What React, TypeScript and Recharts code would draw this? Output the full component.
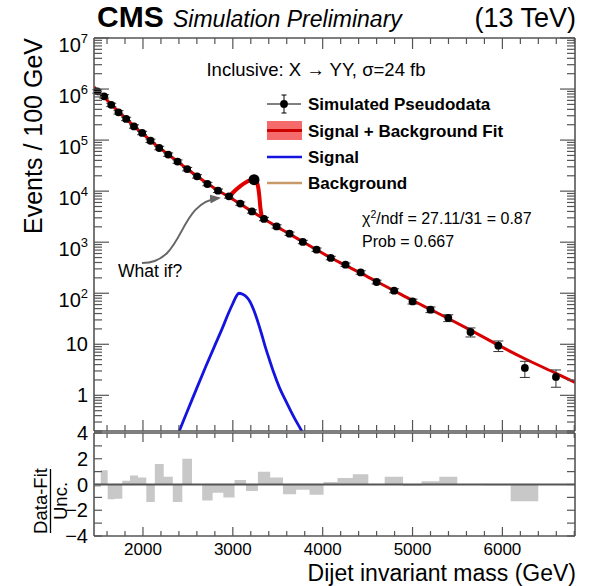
import React from 'react';
import { ComposedChart, Line, Scatter, ErrorBar, XAxis, YAxis, Area, ReferenceLine } from 'recharts';

const FONT = '"Liberation Sans", Arial, Helvetica, sans-serif';
const FRAME = '#555555';

// ---------- data ----------
const massPoints = [1492, 1568, 1647, 1728, 1813, 1900, 1991, 2084, 2181, 2281, 2385, 2492, 2602, 2717, 2835, 2957, 3083, 3213, 3347, 3487, 3631, 3779, 3932, 4090, 4254, 4423, 4600, 4795, 5000, 5200, 5398, 5645, 5955, 6250, 6596];
const eventCounts = [9.0e5, 7.2e5, 4.9e5, 3.5e5, 2.6e5, 1.85e5, 1.38e5, 9.7e4, 7.0e4, 5.2e4, 3.8e4, 2.7e4, 1.95e4, 1.38e4, 1.02e4, 7.9e3, 5.7e3, 4.0e3, 2.85e3, 2.04e3, 1.47e3, 1.01e3, 714, 491, 363, 256, 166, 112, 69, 47.7, 32.8, 17.4, 9.4, 3.44, 2.29];
const eventErrors = [7e4, 5.5e4, 3.8e4, 2.7e4, 2.0e4, 1.4e4, 1.05e4, 7.5e3, 5.4e3, 4.0e3, 2.9e3, 2.1e3, 1.5e3, 1.05e3, 780, 600, 430, 300, 215, 155, 110, 77, 55, 38, 28, 20, 14, 10, 7.5, 6, 5, 3.5, 2.2, 1.2, 0.85];

const fitMass = [1455, 1492, 1568, 1647, 1728, 1813, 1900, 1991, 2084, 2181, 2281, 2385, 2492, 2602, 2717, 2835, 2957, 3083, 3213, 3347, 3487, 3631, 3779, 3932, 4090, 4254, 4423, 4600, 4795, 5000, 5200, 5398, 5645, 5955, 6250, 6596, 6808];
const fitEvents = [1.1e6, 9.3e5, 6.9e5, 5.0e5, 3.6e5, 2.6e5, 1.87e5, 1.36e5, 9.8e4, 7.1e4, 5.2e4, 3.8e4, 2.72e4, 1.96e4, 1.41e4, 1.03e4, 7.7e3, 5.6e3, 4.0e3, 2.85e3, 2.02e3, 1.45e3, 1.02e3, 710, 495, 350, 248, 170, 112, 72, 48, 32, 19, 9.6, 5.2, 2.7, 1.8];

const bumpMass = [2957, 3000, 3080, 3191, 3236, 3262, 3282, 3295, 3305, 3321];
const bumpEvents = [7.7e3, 9.3e3, 1.24e4, 1.62e4, 1.68e4, 1.55e4, 1.2e4, 8.0e3, 5.0e3, 3.25e3];

const peakMass = [3236];
const peakEvents = [1.68e4];

const signalMass = [2300, 2404, 2500, 2600, 2700, 2800, 2880, 2950, 3000, 3040, 3065, 3110, 3150, 3190, 3235, 3283, 3320, 3357, 3400, 3450, 3520, 3599, 3680, 3766, 3850];
const signalEvents = [0.07, 0.2, 0.52, 1.4, 3.7, 9.5, 20, 40, 63, 88, 100, 95, 85, 69, 45.8, 26, 15.9, 9.45, 5.45, 2.96, 1.4, 0.72, 0.374, 0.2, 0.1];

const binEdges = [1455, 1530, 1607, 1687, 1770, 1856, 1945, 2037, 2132, 2231, 2332, 2438, 2546, 2659, 2775, 2895, 3019, 3147, 3279, 3416, 3558, 3704, 3854, 4010, 4165, 4335, 4508, 4690, 4895, 5100, 5298, 5498, 5795, 6092, 6399, 6808];
const pulls = [-0.2, 1.1, -1.15, -1.1, 0.3, 0.7, 0.55, -1.35, 1.6, 0.6, -1.35, 2.0, 0, -1.25, -0.65, -1.0, 0.35, -0.5, 1.0, 0.55, -0.75, -0.4, -0.8, 0.2, 0.5, 0.8, 0, 0.6, -0.1, 0.25, 0.6, 0, -0.05, -1.3, 0];

// ---------- axes ----------
const X_DOMAIN: [number, number] = [1455, 6808];
const xMajor = [2000, 3000, 4000, 5000, 6000];
const xMinor = [1600, 1800, 2200, 2400, 2600, 2800, 3200, 3400, 3600, 3800, 4200, 4400, 4600, 4800, 5200, 5400, 5600, 5800, 6200, 6400, 6600, 6800];
const xTicks = [...xMajor, ...xMinor].sort((a, b) => a - b);

const Y_DOMAIN: [number, number] = [0.2, 1e7];
const yMajor = [1, 10, 100, 1e3, 1e4, 1e5, 1e6, 1e7];
const yDecades = [0.1, 1, 10, 100, 1e3, 1e4, 1e5, 1e6];
const yMinorMult = [2, 3, 4, 5, 6, 7, 8, 9];
const yTicks = [...yMajor, ...yDecades.flatMap((d) => yMinorMult.map((m) => d * m))].filter((v) => v >= 0.2 && v <= 1e7);
const yExp: Record<number, string> = { 100: '2', 1000: '3', 10000: '4', 100000: '5', 1000000: '6', 10000000: '7' };

const R_DOMAIN: [number, number] = [-4, 4];
const rMajor = [-4, -2, 0, 2, 4];
const rTicks = [-4, -3, -2, -1, 0, 1, 2, 3, 4];
const rLabels: Record<number, string> = { [-4]: '\u22124', [-2]: '\u22122', 0: '0', 2: '2', 4: '4' };

// ---------- derived tables ----------
const pointData = massPoints.map((x, i) => ({ x, y: eventCounts[i], err: eventErrors[i] }));
const fitData = fitMass.map((x, i) => ({ x, y: fitEvents[i] }));
const bumpData = bumpMass.map((x, i) => ({ x, y: bumpEvents[i] }));
const peakData = peakMass.map((x, i) => ({ x, y: peakEvents[i] }));
const signalData = signalMass.map((x, i) => ({ x, y: signalEvents[i] }));
const pullData = binEdges.map((x, i) => ({ x, r: i < pulls.length ? pulls[i] : 0 }));

// ---------- tick renderers ----------
const makeXTick = (side: 'top' | 'bottom', majLen: number, minLen: number, label: boolean) => (props: any) => {
  const { x, y, payload } = props;
  const v = payload.value;
  const major = xMajor.includes(v);
  const len = major ? majLen : minLen;
  const dir = side === 'bottom' ? -1 : 1;
  return (
    <g>
      <line x1={x} x2={x} y1={y} y2={y + dir * len} stroke={FRAME} strokeWidth={1.2} />
      {label && major ? (
        <text x={x} y={y + 19} textAnchor="middle" fontSize={17} fontFamily={FONT} fill="#000">
          {v}
        </text>
      ) : null}
    </g>
  );
};

const makeLogYTick = (side: 'left' | 'right') => (props: any) => {
  const { x, y, payload } = props;
  const v = payload.value;
  const major = yMajor.includes(v);
  const len = major ? 15 : 8;
  const dir = side === 'left' ? 1 : -1;
  let lab: any = null;
  if (side === 'left' && major) {
    if (v === 1 || v === 10) {
      lab = (
        <text x={x - 6} y={y + 7} textAnchor="end" fontSize={20} fontFamily={FONT} fill="#000">
          {v === 1 ? '1' : '10'}
        </text>
      );
    } else {
      lab = (
        <text x={x - 6} y={y + 14} textAnchor="end" fontSize={20} fontFamily={FONT} fill="#000">
          10<tspan dy={-9} fontSize={13}>{yExp[v]}</tspan>
        </text>
      );
    }
  }
  return (
    <g>
      <line x1={x} x2={x + dir * len} y1={y} y2={y} stroke={FRAME} strokeWidth={1.2} />
      {lab}
    </g>
  );
};

const makePullTick = (side: 'left' | 'right') => (props: any) => {
  const { x, y, payload } = props;
  const v = payload.value;
  const major = rMajor.includes(v);
  const dir = side === 'left' ? 1 : -1;
  return (
    <g>
      <line x1={x} x2={x + dir * 8} y1={y} y2={y} stroke={FRAME} strokeWidth={1.2} />
      {side === 'left' && major ? (
        <text x={x - 6} y={y + 7} textAnchor="end" fontSize={20} fontFamily={FONT} fill="#000">
          {rLabels[v]}
        </text>
      ) : null}
    </g>
  );
};

const axisLine = { stroke: FRAME, strokeWidth: 1.6 };

const DataDot = (p: any) => <circle cx={p.cx} cy={p.cy} r={3.9} fill="#000" />;
const PeakDot = (p: any) => <circle cx={p.cx} cy={p.cy} r={5.5} fill="#000" />;

export default function App() {
  return (
    <div style={{ position: 'absolute', left: 0, top: 0, width: 590, height: 586, background: '#fff', fontFamily: FONT }}>
      {/* lower (pull) panel */}
      <div style={{ position: 'absolute', left: 0, top: 0 }}>
        <ComposedChart width={590} height={586} margin={{ top: 432, right: 14, bottom: 49, left: 93 }}>
          <XAxis dataKey="x" type="number" domain={X_DOMAIN} allowDataOverflow ticks={xTicks} interval={0}
            height={1} tickSize={0} tickMargin={0} tickLine={false} axisLine={axisLine}
            tick={makeXTick('bottom', 9, 5, true)} />
          <XAxis xAxisId="top" orientation="top" dataKey="x" type="number" domain={X_DOMAIN} allowDataOverflow ticks={xTicks} interval={0}
            height={1} tickSize={0} tickMargin={0} tickLine={false} axisLine={axisLine}
            tick={makeXTick('top', 9, 5, false)} />
          <YAxis type="number" domain={R_DOMAIN} allowDataOverflow ticks={rTicks} interval={0}
            width={1} tickSize={0} tickMargin={0} tickLine={false} axisLine={axisLine}
            tick={makePullTick('left')} />
          <YAxis yAxisId="right" orientation="right" type="number" domain={R_DOMAIN} allowDataOverflow ticks={rTicks} interval={0}
            width={1} tickSize={0} tickMargin={0} tickLine={false} axisLine={axisLine}
            tick={makePullTick('right')} />
          <Area data={pullData} dataKey="r" type="stepAfter" fill="#c8c8c8" fillOpacity={1} stroke="none"
            baseValue={0} isAnimationActive={false} dot={false} activeDot={false} />
          <ReferenceLine y={0} stroke={FRAME} strokeWidth={2} />
        </ComposedChart>
      </div>

      {/* main panel */}
      <div style={{ position: 'absolute', left: 0, top: 0 }}>
        <ComposedChart width={590} height={440} margin={{ top: 37, right: 14, bottom: 8, left: 93 }}>
          <XAxis dataKey="x" type="number" domain={X_DOMAIN} allowDataOverflow ticks={xTicks} interval={0}
            height={1} tickSize={0} tickMargin={0} tickLine={false} axisLine={axisLine}
            tick={makeXTick('bottom', 11, 6, false)} />
          <XAxis xAxisId="top" orientation="top" dataKey="x" type="number" domain={X_DOMAIN} allowDataOverflow ticks={xTicks} interval={0}
            height={1} tickSize={0} tickMargin={0} tickLine={false} axisLine={axisLine}
            tick={makeXTick('top', 11, 6, false)} />
          <YAxis type="number" scale="log" domain={Y_DOMAIN} allowDataOverflow ticks={yTicks} interval={0}
            width={1} tickSize={0} tickMargin={0} tickLine={false} axisLine={axisLine}
            tick={makeLogYTick('left')} />
          <YAxis yAxisId="right" orientation="right" type="number" scale="log" domain={Y_DOMAIN} allowDataOverflow ticks={yTicks} interval={0}
            width={1} tickSize={0} tickMargin={0} tickLine={false} axisLine={axisLine}
            tick={makeLogYTick('right')} />
          <Line data={signalData} dataKey="y" type="monotone" stroke="#1414e0" strokeWidth={2.8} dot={false} activeDot={false} isAnimationActive={false} />
          <Line data={fitData} dataKey="y" type="monotone" stroke="#d80000" strokeWidth={3} dot={false} activeDot={false} isAnimationActive={false} />
          <Line data={bumpData} dataKey="y" type="monotone" stroke="#e00000" strokeWidth={4} dot={false} activeDot={false} isAnimationActive={false} />
          <Scatter data={pointData} dataKey="y" shape={DataDot} isAnimationActive={false}>
            <ErrorBar dataKey="err" direction="y" width={5} stroke="#333" strokeWidth={1} />
          </Scatter>
          <Scatter data={peakData} dataKey="y" shape={PeakDot} isAnimationActive={false} />
        </ComposedChart>
      </div>

      {/* text and annotations */}
      <svg width={590} height={586} style={{ position: 'absolute', left: 0, top: 0, pointerEvents: 'none' }} fontFamily={FONT}>
        <defs>
          <marker id="arrowHead" markerWidth="11" markerHeight="9" refX="9" refY="4.5" orient="auto" markerUnits="userSpaceOnUse">
            <path d="M0,0 L11,4.5 L0,9 z" fill="#666" />
          </marker>
        </defs>
        <text x={97} y={27} fontSize={30} fontWeight="bold" fill="#000">CMS</text>
        <text x={173} y={27} fontSize={23} fontStyle="italic" fill="#000">Simulation Preliminary</text>
        <text x={576} y={27} fontSize={27} textAnchor="end" fill="#000">(13 TeV)</text>

        <text transform="translate(42,136) rotate(-90)" textAnchor="middle" fontSize={25} fill="#000">Events / 100 GeV</text>

        <g transform="translate(0,501) rotate(-90)">
          <text x={0} y={47} textAnchor="middle" fontSize={18.5} fill="#000">Data-Fit</text>
          <line x1={-32} x2={32} y1={50.5} y2={50.5} stroke="#000" strokeWidth={1.3} />
          <text x={0} y={67} textAnchor="middle" fontSize={18.5} fill="#000">Unc.</text>
        </g>

        <text x={576} y={581} fontSize={23} textAnchor="end" fill="#000">Dijet invariant mass (GeV)</text>

        <text x={316} y={76} fontSize={18.5} textAnchor="middle" fill="#000">Inclusive: X {'\u2192'} YY, {'\u03c3'}=24 fb</text>

        {/* legend */}
        <line x1={267} x2={301} y1={104} y2={104} stroke="#000" strokeWidth={1} />
        <line x1={284} x2={284} y1={95} y2={113} stroke="#000" strokeWidth={1} />
        <line x1={281.5} x2={286.5} y1={95} y2={95} stroke="#000" strokeWidth={1} />
        <line x1={281.5} x2={286.5} y1={113} y2={113} stroke="#000" strokeWidth={1} />
        <circle cx={284} cy={104} r={3.9} fill="#000" />
        <text x={308} y={110} fontSize={17} fontWeight="bold" fill="#000">Simulated Pseudodata</text>

        <rect x={267} y={121} width={35} height={19} fill="#f56a6a" />
        <line x1={267} x2={302} y1={130.5} y2={130.5} stroke="#cc0000" strokeWidth={3} />
        <text x={308} y={136.5} fontSize={17} fontWeight="bold" fill="#000">Signal + Background Fit</text>

        <line x1={267} x2={302} y1={157} y2={157} stroke="#1414e0" strokeWidth={2.5} />
        <text x={308} y={163} fontSize={17} fontWeight="bold" fill="#000">Signal</text>

        <line x1={267} x2={302} y1={183} y2={183} stroke="#c89a6a" strokeWidth={2.5} />
        <text x={308} y={189} fontSize={17} fontWeight="bold" fill="#000">Background</text>

        <text x={362} y={223.5} fontSize={16} fill="#000">
          {'\u03c7'}<tspan dy={-6} fontSize={10.5}>2</tspan><tspan dy={6}>/ndf = 27.11/31 = 0.87</tspan>
        </text>
        <text x={362} y={246.5} fontSize={16} fill="#000">Prob = 0.667</text>

        <path d="M142,263 C186,263 176,203 219,198" stroke="#666" strokeWidth={2} fill="none" markerEnd="url(#arrowHead)" />
        <text x={118} y={277} fontSize={17.5} fill="#000">What if?</text>
      </svg>
    </div>
  );
}
